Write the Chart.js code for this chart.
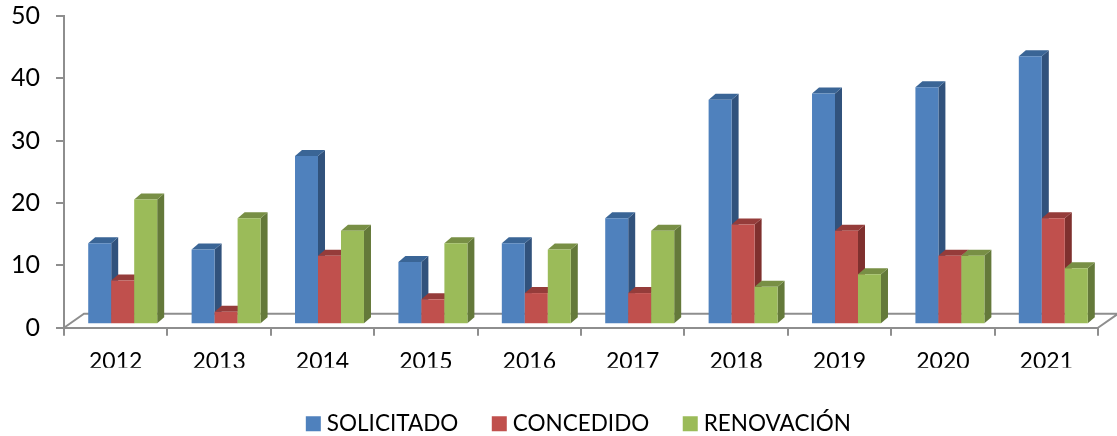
<!DOCTYPE html>
<html>
<head>
<meta charset="utf-8">
<style>
  html, body { margin: 0; background: #fff; }
  canvas { display: block; }
</style>
</head>
<body>
<canvas id="chart" width="1117" height="436"></canvas>
<script src="https://cdn.jsdelivr.net/npm/chart.js@4/dist/chart.umd.min.js"></script>
<script>
const years = ["2012", "2013", "2014", "2015", "2016", "2017", "2018", "2019", "2020", "2021"];
const solicitado = [13, 12, 27, 10, 13, 17, 36, 37, 38, 43];
const concedido = [7, 2, 11, 4, 5, 5, 16, 15, 11, 17];
const renovacion = [20, 17, 15, 13, 12, 15, 6, 8, 11, 9];
const yTicks = [0, 10, 20, 30, 40, 50];

const axisGray = "#8e8e8e";
const shades = [
  { front: "#4f81bd", top: "#3a6596", side: "#31527c" },
  { front: "#c0504d", top: "#953c3a", side: "#7f302e" },
  { front: "#9bbb59", top: "#788f45", side: "#64793a" }
];

// fake 3D look: bars sit a bit up and right of the axis, with a side and top face
const depthX = 7, depthY = 6, shiftX = 7, shiftY = -3.5, floorX = 20, floorY = 14;

const bars3d = {
  id: "bars3d",
  afterLayout(chart) {
    // legend sits right of centre and low in the original
    chart.legend.left += 32;
    chart.legend.right += 32;
    chart.legend.top += 6;
    chart.legend.bottom += 6;
  },
  beforeDatasetsDraw(chart) {
    const { ctx, chartArea: a } = chart;
    ctx.save();
    // floor
    ctx.strokeStyle = axisGray;
    ctx.lineWidth = 2;
    ctx.beginPath();
    ctx.moveTo(a.left, a.bottom);
    ctx.lineTo(a.left + floorX, a.bottom - floorY);
    ctx.lineTo(a.right + floorX, a.bottom - floorY);
    ctx.lineTo(a.right, a.bottom);
    ctx.stroke();

    ctx.translate(shiftX, shiftY);
    chart.data.datasets.forEach((ds, i) => {
      const s = shades[i];
      chart.getDatasetMeta(i).data.forEach(bar => {
        const r = bar.x + bar.width / 2, l = bar.x - bar.width / 2;
        ctx.fillStyle = s.side;
        ctx.beginPath();
        ctx.moveTo(r, bar.y);
        ctx.lineTo(r + depthX, bar.y - depthY);
        ctx.lineTo(r + depthX, bar.base - depthY);
        ctx.lineTo(r, bar.base);
        ctx.closePath();
        ctx.fill();
        ctx.fillStyle = s.top;
        ctx.beginPath();
        ctx.moveTo(l, bar.y);
        ctx.lineTo(l + depthX, bar.y - depthY);
        ctx.lineTo(r + depthX, bar.y - depthY);
        ctx.lineTo(r, bar.y);
        ctx.closePath();
        ctx.fill();
        bar.draw(ctx);
      });
    });
    ctx.restore();
  },
  beforeDatasetDraw() {
    return false; // already drawn above, left to right
  }
};

new Chart(document.getElementById("chart"), {
  type: "bar",
  data: {
    labels: years,
    datasets: [
      { label: "SOLICITADO", data: solicitado, backgroundColor: shades[0].front },
      { label: "CONCEDIDO", data: concedido, backgroundColor: shades[1].front },
      { label: "RENOVACIÓN", data: renovacion, backgroundColor: shades[2].front }
    ]
  },
  options: {
    responsive: false,
    animation: false,
    devicePixelRatio: 1,
    categoryPercentage: 0.667,
    barPercentage: 1,
    layout: { padding: { top: 16, right: 19, bottom: -3, left: 0 } },
    plugins: {
      tooltip: { enabled: false },
      title: { display: false },
      legend: {
        position: "bottom",
        onClick: null,
        labels: {
          color: "#000",
          font: { family: "Lato", size: 22.5 },
          boxWidth: 4.5,
          boxHeight: 4.5,
          padding: 38.75,
          generateLabels: chart => chart.data.datasets.map((ds, i) => ({
            text: ds.label,
            fillStyle: shades[i].front,
            strokeStyle: shades[i].front,
            lineWidth: 10.5,
            datasetIndex: i
          }))
        }
      }
    },
    scales: {
      x: {
        offset: true,
        afterFit: s => { s.height = 40; },
        border: { color: axisGray, width: 2 },
        grid: { offset: true, drawOnChartArea: false, color: axisGray, lineWidth: 2, tickLength: 8 },
        ticks: { color: "#000", padding: 12, maxRotation: 0, font: { family: "Lato", size: 23 } }
      },
      y: {
        min: 0,
        max: 50,
        afterBuildTicks: s => { s.ticks = yTicks.map(v => ({ value: v })); },
        afterFit: s => { s.width = 64; s.paddingTop = 0; s.paddingBottom = 0; },
        border: { color: axisGray, width: 2 },
        grid: { drawOnChartArea: false, color: axisGray, lineWidth: 2, tickLength: 8 },
        ticks: { color: "#000", padding: 16, font: { family: "Lato", size: 25 } }
      }
    }
  },
  plugins: [bars3d]
});
</script>
</body>
</html>
